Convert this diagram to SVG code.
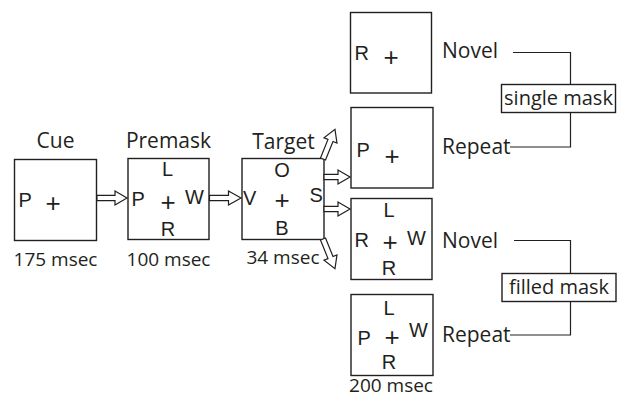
<svg xmlns="http://www.w3.org/2000/svg" width="623" height="404" viewBox="0 0 623 404">
<style>
text{font-family:"Open Sans","Liberation Sans",sans-serif;fill:#231f20;font-size:21px}
.c{text-anchor:middle}
.s{font-size:19px}
.m{font-size:20px;text-anchor:middle}
.l{font-family:"Liberation Sans",Arial,sans-serif;font-size:20px}
.p{font-family:"Liberation Sans",Arial,sans-serif;font-size:26px;text-anchor:middle}
.box{fill:#fff;stroke:#231f20;stroke-width:1.4}
.ln{fill:none;stroke:#231f20;stroke-width:1.2}
.arr{fill:#fff;stroke:#231f20;stroke-width:1.2;stroke-linejoin:miter}
</style>
<rect width="623" height="404" fill="#fff"/>
<g id="cue">
<text class="c" x="55.5" y="148">Cue</text>
<rect class="box" x="14.5" y="159.5" width="82" height="81"/>
<text class="l" x="18.5" y="207">P</text>
<text class="p" x="53" y="212">+</text>
<text class="c s" x="55.5" y="266">175 msec</text>
</g>
<g id="premask">
<text class="c" x="168.5" y="148">Premask</text>
<rect class="box" x="128" y="158.5" width="81" height="81"/>
<text class="l c" x="167.5" y="176">L</text>
<text class="l" x="131.5" y="206">P</text>
<text class="p" x="168" y="211">+</text>
<text class="l" x="185" y="204">W</text>
<text class="l c" x="168" y="236">R</text>
<text class="c s" x="168.5" y="266">100 msec</text>
</g>
<g id="target">
<text class="c" x="283.5" y="149">Target</text>
<rect class="box" x="242" y="158.5" width="82" height="81"/>
<text class="l c" x="282" y="177">O</text>
<text class="l" x="243" y="205">V</text>
<text class="p" x="282" y="209">+</text>
<text class="l" x="309.5" y="202">S</text>
<text class="l c" x="282" y="235">B</text>
<text class="c s" x="283" y="264">34 msec</text>
</g>
<g id="single-novel">
<rect class="box" x="350.5" y="12.5" width="81" height="80.5"/>
<text class="l" x="354.5" y="60">R</text>
<text class="p" x="391" y="66">+</text>
<text x="442" y="58">Novel</text>
</g>
<g id="single-repeat">
<rect class="box" x="351" y="107.5" width="82" height="80.5"/>
<text class="l" x="356.5" y="157">P</text>
<text class="p" x="392" y="165">+</text>
<text x="442" y="154">Repeat</text>
</g>
<g id="filled-novel">
<rect class="box" x="351" y="198.5" width="81" height="81"/>
<text class="l c" x="389" y="217">L</text>
<text class="l" x="354.5" y="247">R</text>
<text class="p" x="390" y="251">+</text>
<text class="l" x="407" y="245">W</text>
<text class="l c" x="389" y="275">R</text>
<text x="442" y="248">Novel</text>
</g>
<g id="filled-repeat">
<rect class="box" x="351" y="294.5" width="82" height="81"/>
<text class="l c" x="389" y="315">L</text>
<text class="l" x="357.5" y="345">P</text>
<text class="p" x="392" y="346">+</text>
<text class="l" x="409" y="337">W</text>
<text class="l c" x="389" y="369">R</text>
<text x="442" y="342">Repeat</text>
<text class="c s" x="391" y="392">200 msec</text>
</g>
<g id="single-mask">
<rect class="box" x="501.5" y="84.5" width="114" height="28"/>
<text class="m" x="558.5" y="105">single mask</text>
</g>
<g id="filled-mask">
<rect class="box" x="502" y="273.5" width="114" height="28"/>
<text class="m" x="559" y="294">filled mask</text>
</g>
<g id="connectors">
<path class="ln" d="M513,52.5H570.5V84.5M570.5,112.5V147H510"/>
<path class="ln" d="M514,240.5H570.5V273.5M570.5,301.5V335H510"/>
<path class="arr" transform="translate(97,198)" d="M0,-2.7H18V-7L30,0L18,7V2.7H0Z"/>
<path class="arr" transform="translate(209.5,198)" d="M0,-2.7H19V-7L31.5,0L19,7V2.7H0Z"/>
<path class="arr" transform="translate(324,177)" d="M0,-2.7H14V-7L26,0L14,7V2.7H0Z"/>
<path class="arr" transform="translate(324,209)" d="M0,-2.7H14V-7L26,0L14,7V2.7H0Z"/>
<path class="arr" transform="translate(323,159) rotate(-68)" d="M0,-2.7H20V-7L32,0L20,7V2.7H0Z"/>
<path class="arr" transform="translate(323,239) rotate(68)" d="M0,-2.7H20V-7L32,0L20,7V2.7H0Z"/>
</g>
</svg>
